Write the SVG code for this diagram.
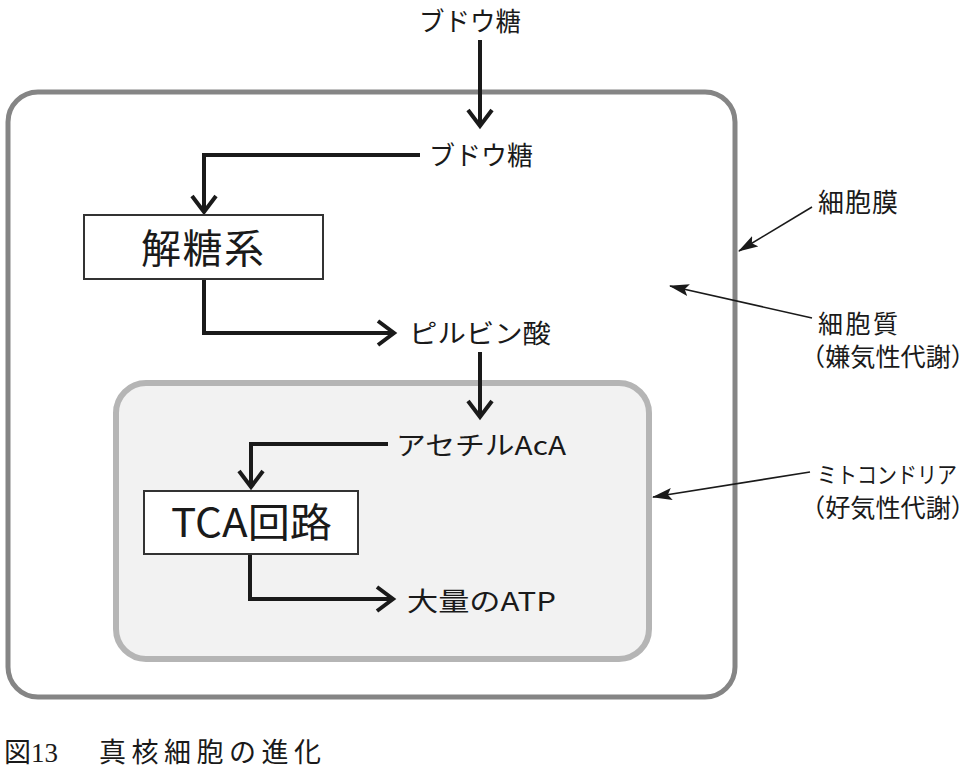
<svg xmlns="http://www.w3.org/2000/svg" width="977" height="777" viewBox="0 0 977 777">
<defs>
<style>
.t{font-family:"Noto Sans CJK JP","Noto Sans",sans-serif;fill:#1a1a1a;}
.lbl{font-size:26px;}
.box{font-size:40px;}
.flow{fill:none;stroke:#1a1a1a;stroke-width:4;stroke-linejoin:miter;}
.thin{fill:none;stroke:#1a1a1a;stroke-width:1.6;}
</style>
<marker id="chev" markerWidth="10" markerHeight="10" viewBox="0 0 10 10" refX="9" refY="5" orient="auto" markerUnits="userSpaceOnUse" overflow="visible">
<path d="M-7,-7 L9,5 L-7,17" fill="none" stroke="#1a1a1a" stroke-width="4"/>
</marker>
<marker id="tri" markerWidth="20" markerHeight="12" viewBox="0 0 20 12" refX="19" refY="6" orient="auto" markerUnits="userSpaceOnUse">
<path d="M0,0 L20,6 L0,12 L4,6 Z" fill="#1a1a1a"/>
</marker>
</defs>
<rect width="977" height="777" fill="#ffffff"/>
<g id="cell">
<rect x="8" y="92" width="727" height="605" rx="30" ry="30" fill="#ffffff" stroke="#858585" stroke-width="5"/>
</g>
<g id="mitochondria">
<rect x="116" y="383" width="533" height="276" rx="30" ry="30" fill="#f2f2f2" stroke="#b5b5b5" stroke-width="6"/>
</g>
<g id="connectors">
<path class="flow" d="M480,40 V126" marker-end="url(#chev)"/>
<path class="flow" d="M420,155 H204 V212" marker-end="url(#chev)"/>
<path class="flow" d="M204,279 V333 H394" marker-end="url(#chev)"/>
<path class="flow" d="M480,352 V417" marker-end="url(#chev)"/>
<path class="flow" d="M388,444 H251 V487" marker-end="url(#chev)"/>
<path class="flow" d="M250,554 V599 H393" marker-end="url(#chev)"/>
<path class="thin" d="M812,207 L739,251" marker-end="url(#tri)"/>
<path class="thin" d="M812,318 L670,286" marker-end="url(#tri)"/>
<path class="thin" d="M810,472 L653,497" marker-end="url(#tri)"/>
</g>
<g id="glucose-in"><text class="t lbl" x="419" y="31" textLength="102" lengthAdjust="spacingAndGlyphs">ブドウ糖</text></g>
<g id="glucose"><text class="t lbl" x="429" y="165" textLength="104" lengthAdjust="spacingAndGlyphs">ブドウ糖</text></g>
<g id="glycolysis">
<rect x="84" y="215" width="239" height="64" fill="#ffffff" stroke="#333333" stroke-width="2"/>
<text class="t box" x="141" y="263" textLength="123" lengthAdjust="spacing">解糖系</text>
</g>
<g id="pyruvate"><text class="t lbl" x="409" y="343" textLength="142" lengthAdjust="spacingAndGlyphs">ピルビン酸</text></g>
<g id="acetyl"><text class="t lbl" x="396" y="455" textLength="170" lengthAdjust="spacingAndGlyphs">アセチルAcA</text></g>
<g id="tca">
<rect x="144" y="491" width="214" height="63" fill="#ffffff" stroke="#333333" stroke-width="2"/>
<text class="t box" x="171" y="537" textLength="161" lengthAdjust="spacingAndGlyphs">TCA回路</text>
</g>
<g id="atp"><text class="t lbl" x="407" y="611" textLength="149" lengthAdjust="spacingAndGlyphs">大量のATP</text></g>
<g id="membrane-label"><text class="t lbl" x="818" y="212" textLength="80" lengthAdjust="spacing">細胞膜</text></g>
<g id="cytoplasm-label">
<text class="t" font-size="25" x="818" y="333" textLength="80" lengthAdjust="spacing">細胞質</text>
<text class="t" font-size="25" x="800" y="366" textLength="176" lengthAdjust="spacingAndGlyphs">（嫌気性代謝）</text>
</g>
<g id="mito-label">
<text class="t" font-size="22.5" x="817" y="483" textLength="140" lengthAdjust="spacingAndGlyphs">ミトコンドリア</text>
<text class="t" font-size="25" x="800" y="517" textLength="176" lengthAdjust="spacingAndGlyphs">（好気性代謝）</text>
</g>
<g id="caption"><text y="762" font-family="'Liberation Serif','Noto Sans CJK JP',serif" font-size="27" fill="#1a1a1a"><tspan x="4">図13　</tspan><tspan x="99" textLength="222" lengthAdjust="spacing">真核細胞の進化</tspan></text></g>
</svg>
